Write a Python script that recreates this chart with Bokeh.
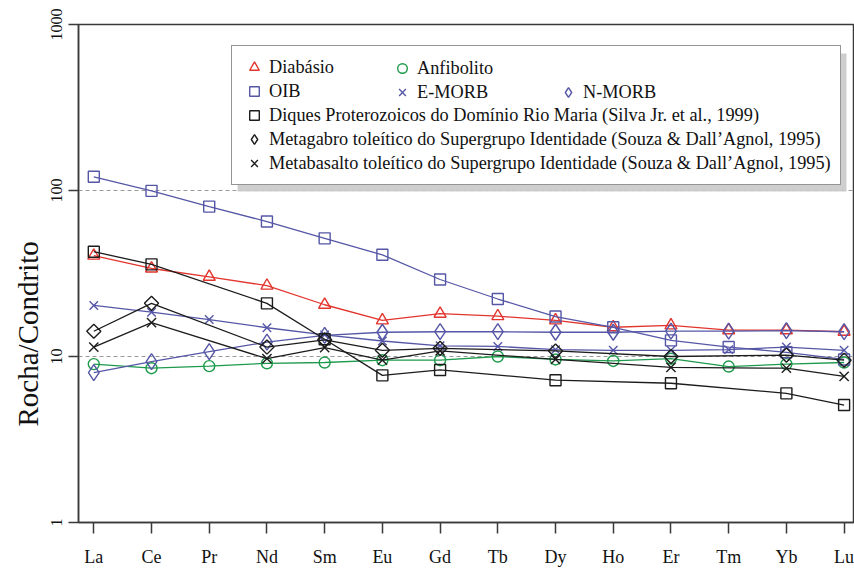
import math
from bokeh.plotting import figure
from bokeh.models import (FixedTicker, NumeralTickFormatter, Legend, LegendItem,
                          BoxAnnotation, ColumnDataSource, Range1d, Title, LinearScale)
from bokeh.embed import file_html
from bokeh.resources import INLINE

elements = ["La", "Ce", "Pr", "Nd", "Sm", "Eu", "Gd", "Tb", "Dy", "Ho", "Er", "Tm", "Yb", "Lu"]

diabasio = [40.5, 33.9, 30.2, 26.7, 20.5, 16.5, 18.1, 17.5, 16.5, 15.0, 15.4, 14.4, 14.4, 14.1]
anfibolito = [9.0, 8.5, 8.75, 9.1, 9.2, 9.5, 9.5, 10.0, 9.6, 9.4, 9.7, 8.7, 9.0, 9.2]
oib = [121.0, 99.5, 80.0, 65.0, 51.5, 41.0, 29.1, 22.2, 17.4, 15.0, 12.5, 11.4, 10.6, 9.6]
emorb = [20.3, 18.5, 16.7, 14.9, 13.5, 12.4, 11.6, 11.5, 11.0, 10.9, 10.9, 11.0, 11.4, 10.9]
nmorb = [8.0, 9.3, 10.7, 12.2, 13.4, 14.0, 14.1, 14.1, 14.0, 14.0, 14.2, 14.2, 14.3, 14.1]
diques = [42.8, 35.9, None, 20.9, 12.7, 7.7, 8.3, None, 7.2, None, 6.9, None, 6.0, 5.1]
metagabro = [14.2, 20.9, None, 11.4, 12.6, 10.9, 11.2, None, 10.8, None, 10.0, None, 10.2, 9.5]
metabasalto = [11.4, 16.0, None, 9.7, 11.3, 9.5, 10.8, None, 9.6, None, 8.6, None, 8.5, 7.6]

y_ticks = [1, 10, 100, 1000]

RED = "#e2352d"
BLUE = "#5557a6"
GREEN = "#1e9a4c"
BLACK = "#1c1c1c"
SERIF = "Liberation Serif"

series = [
    ("Diabásio", diabasio, RED, "triangle", 12, 0.0),
    ("Anfibolito", anfibolito, GREEN, "circle", 11, 0.0),
    ("OIB", oib, BLUE, "square", 11, 0.0),
    ("E-MORB", emorb, BLUE, "x", 12, 0.0),
    ("N-MORB", nmorb, BLUE, "diamond", 16, 0.0),
    ("Diques Proterozoicos do Domínio Rio Maria (Silva Jr. et al., 1999)", diques, BLACK, "square", 11, 0.0),
    ("Metagabro toleítico do Supergrupo Identidade (Souza & Dall’Agnol, 1995)", metagabro, BLACK, "square", 10, math.pi / 4),
    ("Metabasalto toleítico do Supergrupo Identidade (Souza & Dall’Agnol, 1995)", metabasalto, BLACK, "x", 13, 0.0),
]

p = figure(width=854, height=569, y_axis_type="log", output_backend="svg",
           toolbar_location=None, x_range=Range1d(-0.265, 13.18), y_range=Range1d(1, 1000),
           min_border_left=78, min_border_top=24, min_border_bottom=45, min_border_right=0)
p.background_fill_color = "white"
p.border_fill_color = "white"
p.outline_line_color = "#3a3a3a"
p.outline_line_width = 1.5

# range used only by the legend key of the rotated-square series, so its
# points fall outside the frame (legend glyphs are never rotated)
p.extra_y_ranges = {"key": Range1d(1000, 2000)}
p.extra_y_scales = {"key": LinearScale()}

p.xgrid.visible = False
p.ygrid.ticker = FixedTicker(ticks=[10, 100])
p.ygrid.grid_line_color = "#9a9a9a"
p.ygrid.grid_line_dash = "4 3"
p.ygrid.grid_line_width = 1

p.xaxis.ticker = FixedTicker(ticks=list(range(len(elements))))
p.xaxis.major_label_overrides = {i: e for i, e in enumerate(elements)}
p.yaxis.ticker = FixedTicker(ticks=y_ticks, minor_ticks=[])
p.yaxis.formatter = NumeralTickFormatter(format="0")
p.yaxis.major_label_orientation = "vertical"

for ax in (p.xaxis, p.yaxis):
    ax.axis_line_color = "#3a3a3a"
    ax.axis_line_width = 1.5
    ax.major_tick_line_color = "#3a3a3a"
    ax.major_tick_line_width = 1.5
    ax.major_tick_in = 0
    ax.minor_tick_line_color = None
    ax.major_label_text_font = SERIF
    ax.major_label_text_color = "#111111"
p.xaxis.major_label_text_font_size = "18px"
p.yaxis.major_label_text_font_size = "16px"
p.xaxis.major_tick_out = 11
p.xaxis.major_label_standoff = 13
p.yaxis.major_tick_out = 10
p.yaxis.major_label_standoff = 7

ylabel = Title(text="Rocha/Condrito", align="left", offset=96, standoff=8,
               text_font=SERIF, text_font_size="29px", text_font_style="normal",
               text_color="#111111")
p.add_layout(ylabel, "left")

scatter_renderers = {}
sources = {}
for label, vals, color, marker, size, angle in series:
    xs = [i for i, v in enumerate(vals) if v is not None]
    ys = [v for v in vals if v is not None]
    src = ColumnDataSource(data=dict(x=xs, y=ys))
    sources[label] = src
    p.line("x", "y", source=src, line_color=color, line_width=1.3)
    r = p.scatter("x", "y", source=src, marker=marker, size=size, angle=angle,
                  line_color=color, line_width=1.4, fill_color=None)
    scatter_renderers[label] = r

gabro = series[6][0]
gabro_key = p.scatter("x", "y", source=sources[gabro], y_range_name="key",
                      marker="diamond", size=14, line_color=BLACK, line_width=1.4, fill_color=None)
scatter_renderers[gabro] = gabro_key

# outer picture border (left and top edges)
border = BoxAnnotation(left=-68, right=900, bottom=-100, top=513,
                       left_units="screen", right_units="screen",
                       bottom_units="screen", top_units="screen",
                       fill_color=None, line_color="#222222", line_width=1.2)
p.add_layout(border)

# legend shadow
shadow = BoxAnnotation(left=159, right=768, bottom=331, top=469,
                       left_units="screen", right_units="screen",
                       bottom_units="screen", top_units="screen",
                       fill_color="#c9c9c9", fill_alpha=0.9, line_color=None)
p.add_layout(shadow)

names = [s[0] for s in series]
common = dict(orientation="vertical", glyph_width=26, glyph_height=24, label_height=24,
              spacing=0, margin=0, label_standoff=2, label_text_font=SERIF,
              label_text_font_size="18.3px", label_text_color="#111111")

col1 = Legend(items=[LegendItem(label=n, renderers=[scatter_renderers[n]]) for n in
                     [names[0], names[2], names[5], names[6], names[7]]],
              location=(153, 337), padding=9, background_fill_color="white",
              background_fill_alpha=1.0, border_line_color="#2a2a2a", border_line_width=1.5,
              **common)
col2 = Legend(items=[LegendItem(label=n, renderers=[scatter_renderers[n]]) for n in
                     [names[1], names[3]]],
              location=(311, 418), padding=0, background_fill_alpha=0, border_line_alpha=0,
              **common)
col3 = Legend(items=[LegendItem(label=names[4], renderers=[scatter_renderers[names[4]]])],
              location=(477, 418), padding=0, background_fill_alpha=0, border_line_alpha=0,
              **common)
for lg in (col1, col2, col3):
    p.add_layout(lg)

open("out.html", "w").write(file_html(p, INLINE))
